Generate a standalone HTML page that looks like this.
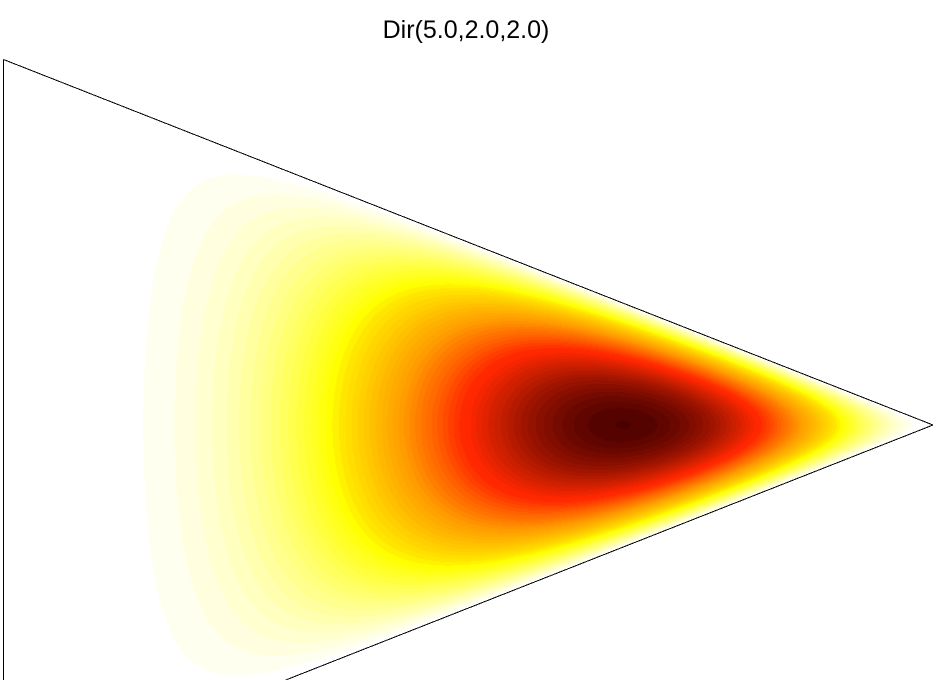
<!DOCTYPE html>
<html>
<head>
<meta charset="utf-8">
<title>Dir(5.0,2.0,2.0)</title>
<style>
html,body{margin:0;padding:0;background:#fff;overflow:hidden;width:943px;height:680px;}
#chart{position:relative;width:943px;height:680px;overflow:hidden;background:#fff;}
#density-canvas{position:absolute;left:0;top:0;display:block;}
#outline{position:absolute;left:0;top:0;display:block;overflow:hidden;}
#chart-title{position:absolute;left:0;width:932px;top:15px;text-align:center;font:25px/30px "Liberation Sans",sans-serif;color:#000;}
</style>
</head>
<body>
<div id="chart">
  <canvas id="density-canvas" width="943" height="680"></canvas>
  <svg id="outline" width="943" height="680">
    <line id="edge-left" stroke="#000" stroke-width="1" shape-rendering="crispEdges"></line>
    <line id="edge-top" stroke="#000" stroke-width="1" shape-rendering="crispEdges"></line>
    <line id="edge-bottom" stroke="#000" stroke-width="1" shape-rendering="crispEdges"></line>
  </svg>
  <div id="chart-title">Dir(5.0,2.0,2.0)</div>
</div>
<script>
// Distribution parameters
var alphaParams = [5.0, 2.0, 2.0];
// Colour scale: filled bands used out of the 64-entry flipped colormap
var bandCount = [57];
var colormapSize = [64];
var bandOffset = [0.05];
// Green channel of the colormap (index, then level)
var greenIndex = [7, 14, 19, 25, 30, 36, 42, 46, 48];
var greenLevel = [0, 0.07, 0.12, 0.16, 0.38, 0.61, 0.78, 0.9, 1];

// Axis functions: simplex coordinates <-> screen pixels
var plotLeft = 4, plotRight = 933, plotMidY = 425, plotHalfHeight = 366, frameBottom = 680;
function xScale(x1) { return plotLeft + x1 * (plotRight - plotLeft); }
function yScale(diff) { return plotMidY - diff * plotHalfHeight; }
function xInvert(px) { return (px - plotLeft) / (plotRight - plotLeft); }
function yInvert(py) { return (plotMidY - py) / plotHalfHeight; }

function logDensity(x1, x2, x3) {
  if (x1 <= 0 || x2 <= 0 || x3 <= 0) return -Infinity;
  return (alphaParams[0] - 1) * Math.log(x1) +
         (alphaParams[1] - 1) * Math.log(x2) +
         (alphaParams[2] - 1) * Math.log(x3);
}
function greenAt(i) {
  if (i <= greenIndex[0]) return greenLevel[0];
  for (var s = 1; s < greenIndex.length; s++) {
    if (i <= greenIndex[s]) {
      var f = (i - greenIndex[s - 1]) / (greenIndex[s] - greenIndex[s - 1]);
      return greenLevel[s - 1] + f * (greenLevel[s] - greenLevel[s - 1]);
    }
  }
  return 1;
}
function bandColor(k) {
  var i = colormapSize[0] - k;
  var r = Math.min(i / 24, 1);
  var g = greenAt(i);
  var b = Math.max(0, Math.min((i - 48) / 16, 1));
  return [Math.round(r * 255), Math.round(g * 255), Math.round(b * 255)];
}

var W = 943, H = 680;
var values = new Float64Array(W * H);
var maxLog = -Infinity;
for (var py = 0; py < H; py++) {
  for (var px = 0; px < W; px++) {
    var x1 = xInvert(px + 0.5);
    var diff = yInvert(py + 0.5);
    var rest = 1 - x1;
    var x2 = (rest + diff) / 2;
    var x3 = (rest - diff) / 2;
    var v = logDensity(x1, x2, x3);
    values[py * W + px] = v;
    if (v > maxLog) maxLog = v;
  }
}
var ctx = document.getElementById('density-canvas').getContext('2d');
var img = ctx.createImageData(W, H);
for (var j = 0; j < W * H; j++) {
  var t = values[j] === -Infinity ? 0 : Math.exp(values[j] - maxLog);
  var c = bandColor(Math.min(bandCount[0], Math.floor(t * bandCount[0] + bandOffset[0])));
  img.data[j * 4] = c[0];
  img.data[j * 4 + 1] = c[1];
  img.data[j * 4 + 2] = c[2];
  img.data[j * 4 + 3] = 255;
}
ctx.putImageData(img, 0, 0);

function setLine(id, xa, ya, xb, yb) {
  var el = document.getElementById(id);
  el.setAttribute('x1', xa);
  el.setAttribute('y1', ya);
  el.setAttribute('x2', xb);
  el.setAttribute('y2', yb);
}
// Edges stop at the frame bottom, where the reference crops the triangle
var cropDiff = yInvert(frameBottom);
setLine('edge-left', xScale(0) - 0.5, yScale(1) + 0.5, xScale(0) - 0.5, frameBottom);
setLine('edge-top', xScale(0) - 0.5, yScale(1) + 0.5, xScale(1), yScale(0));
setLine('edge-bottom', xScale(1), yScale(0), xScale(1 + cropDiff), frameBottom);
</script>
</body>
</html>
